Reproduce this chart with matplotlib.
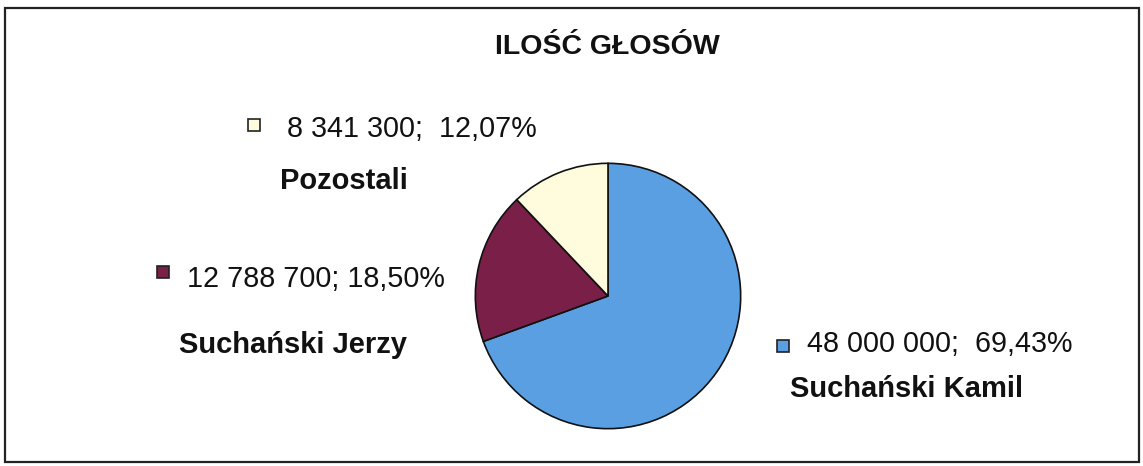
import matplotlib
matplotlib.use('Agg')
import matplotlib.pyplot as plt
from matplotlib.patches import Rectangle

# Data
names = ['Suchański Kamil', 'Suchański Jerzy', 'Pozostali']
votes = [48000000, 12788700, 8341300]
colors = ['#5B9FE3', '#7A1F47', '#FFFBDD']
title = 'ILOŚĆ GŁOSÓW'

W, H = 1143, 466
plt.rcParams['font.family'] = ['Liberation Sans', 'DejaVu Sans']

fig = plt.figure(figsize=(W / 100, H / 100), dpi=100)
fig.patch.set_facecolor('white')


def px(x, y):
    """pixel (from top-left) -> figure fraction"""
    return x / W, 1 - y / H


# outer frame
fig.patches.append(Rectangle(px(5, 462), 1134 / W, 454 / H, transform=fig.transFigure,
                             fill=False, edgecolor='#222222', linewidth=1.6))

# pie axes
cx, cy, r = 608, 296, 134
ax = fig.add_axes([(cx - r) / W, 1 - (cy + r) / H, 2 * r / W, 2 * r / H])
ax.pie(votes, colors=colors, startangle=90, counterclock=False,
       wedgeprops=dict(edgecolor='#111111', linewidth=1.2))
ax.set_xlim(-1.01, 1.01)
ax.set_ylim(-1.01, 1.01)

fig.text(*px(607, 47), title, ha='center', va='center', fontsize=20.5, fontweight='bold', color='#111111')

total = sum(votes)


def fmt(v, sep):
    pct = f"{v / total * 100:.2f}".replace('.', ',')
    return f"{v:,}".replace(',', ' ') + ';' + sep + pct + '%'


# label layout: square centre, value text start, name centre
layout = [
    dict(sq=(783, 346), val=(807, 344), name=(907, 389), sep='  '),
    dict(sq=(163, 272), val=(187, 279), name=(293, 345), sep=' '),
    dict(sq=(254, 125), val=(287, 129), name=(344, 181), sep='  '),
]

for name, v, c, lay in zip(names, votes, colors, layout):
    sx, sy = lay['sq']
    s = 12
    fig.patches.append(Rectangle(px(sx - s / 2, sy + s / 2), s / W, s / H, transform=fig.transFigure,
                                 facecolor=c, edgecolor='#222222', linewidth=1.2))
    fig.text(*px(*lay['val']), fmt(v, lay['sep']), ha='left', va='center', fontsize=20.7, color='#111111')
    fig.text(*px(*lay['name']), name, ha='center', va='center', fontsize=21, fontweight='bold', color='#111111')

fig.savefig('out.png', dpi=100)
